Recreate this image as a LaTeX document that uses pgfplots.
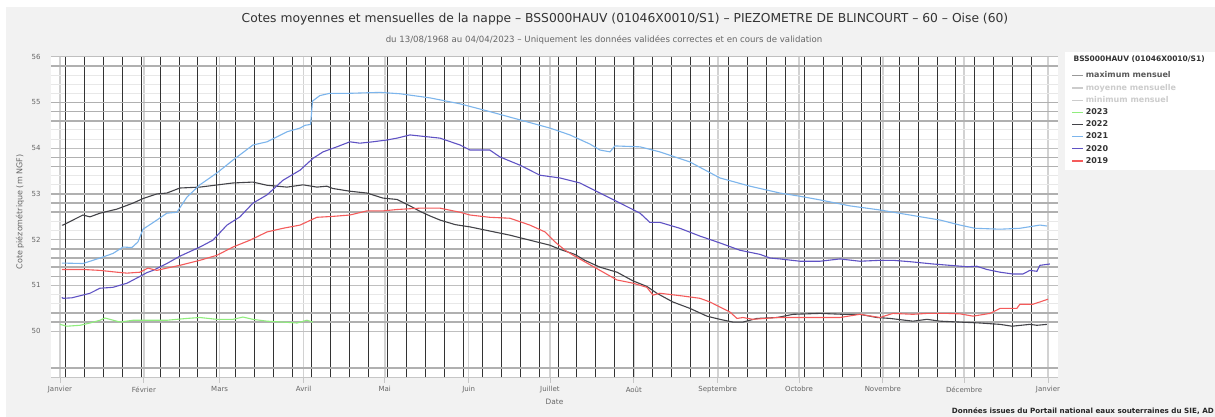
\documentclass[border=0pt]{standalone}
\usepackage{fontspec}
\setmainfont{DejaVu Sans}
\usepackage{pgfplots}
\pgfplotsset{compat=1.18}
\definecolor{bgGray}{HTML}{F2F2F2}
\definecolor{txtGray}{HTML}{666666}
\definecolor{c2023}{HTML}{90ED7D}
\definecolor{c2022}{HTML}{434348}
\definecolor{c2021}{HTML}{7CB5EC}
\definecolor{c2020}{HTML}{5F52C4}
\definecolor{c2019}{HTML}{F45B5B}
\definecolor{cMax}{HTML}{999999}
\definecolor{cHid}{HTML}{CCCCCC}

\begin{document}
\begin{tikzpicture}[x=1pt,y=1pt]
\path[use as bounding box] (0,0) rectangle (1215,417);
\clip (0,0) rectangle (1215,417);
\fill[white] (0,0) rectangle (1215,417);
\fill[bgGray] (6,0) rectangle (1215,410);
\fill[white] (1065,247) rectangle (1215,365);

% titles
\node[font=\fontsize{12.3}{14}\selectfont, text=black!80] at (625,398)
  {Cotes moyennes et mensuelles de la nappe – BSS000HAUV (01046X0010/S1) – PIEZOMETRE DE BLINCOURT – 60 – Oise (60)};
\node[font=\fontsize{8.6}{10}\selectfont, text=txtGray] at (604,377)
  {du 13/08/1968 au 04/04/2023 – Uniquement les données validées correctes et en cours de validation};
\node[font=\bfseries\fontsize{7.5}{9}\selectfont, text=black!80, anchor=west] at (1070,358)
  {BSS000HAUV (01046X0010/S1)};
\node[font=\bfseries\fontsize{7.2}{9}\selectfont, text=black!85, anchor=east, inner xsep=0pt] at (1214,6)
  {Données issues du Portail national eaux souterraines du SIE, AD};

\begin{axis}[
    at={(51pt,40pt)}, anchor=south west,
    width=1007pt, height=320.3pt, scale only axis,
    axis background/.style={fill=white},
    xmin=-3.3, xmax=368.7, ymin=49, ymax=56,
    axis x line*=bottom, axis y line*=left,
    x axis line style={draw=gray!45, line width=0.8pt, -},
    y axis line style={draw=none},
    xtick={0,31,59,90,120,151,181,212,243,273,304,334,365},
    xticklabels={Janvier,Février,Mars,Avril,Mai,Juin,Juillet,Août,Septembre,Octobre,Novembre,Décembre,Janvier},
    xtick align=outside, major tick length=6pt,
    x tick style={draw=gray!45, line width=0.8pt},
    ytick={50,...,56}, y tick style={draw=none},
    minor y tick num=4,
    xmajorgrids=true, ymajorgrids=true, yminorgrids=true,
    major x grid style={draw=gray!35, line width=1.5pt},
    major y grid style={draw=gray!50, line width=0.9pt},
    minor y grid style={draw=gray!18, line width=0.9pt},
    extra x ticks={2,9,...,359},
    extra x tick labels={},
    extra x tick style={major tick length=0pt, major x grid style={draw=black!80, line width=1pt}},
    extra y ticks={49.2,50.2,50.4,51.2,51.4,51.6,51.8,52.6,52.8,53.0,53.6,53.8,54.6,54.8,55.0,55.8},
    extra y tick labels={},
    extra y tick style={major tick length=0pt, major y grid style={draw=gray!62, line width=1.6pt}},
    tick label style={font=\fontsize{7}{8}\selectfont, text=txtGray},
    /pgf/number format/assume math mode=true,
    yticklabel style={xshift=-7pt},
    xlabel={Date}, ylabel={Cote piézométrique (m NGF)},
    every axis x label/.style={at={(axis description cs:0.5,-0.078)}, anchor=center,
      font=\fontsize{7.4}{8}\selectfont, text=txtGray},
    every axis y label/.style={at={(axis description cs:-0.0308,0.515)}, rotate=90, anchor=center,
      font=\fontsize{8}{9}\selectfont, text=txtGray},
    legend style={at={(axis description cs:1,1)}, anchor=north west, xshift=13.5pt, yshift=-13pt,
      draw=none, fill=none, inner sep=0pt, row sep=0.7pt,
      font=\bfseries\fontsize{8}{9}\selectfont},
    legend cell align=left,
    legend image code/.code={\draw[#1] (0pt,0pt) -- (11pt,0pt);},
    every axis plot/.append style={line width=1.1pt},
]
\addlegendimage{cMax, line width=1.1pt}
\addlegendentry[text=black!65]{maximum mensuel}
\addlegendimage{cHid, line width=1.1pt}
\addlegendentry[text=cHid]{moyenne mensuelle}
\addlegendimage{cHid, line width=1.1pt}
\addlegendentry[text=cHid]{minimum mensuel}

% 2023
\addplot[c2023] coordinates {
(0,50.15) (2.6,50.11) (7.4,50.13) (11.1,50.18) (14.8,50.24) (16.6,50.29) (22.2,50.20) (27.0,50.24)
(39.5,50.24) (46.9,50.28) (51.7,50.30) (58.0,50.26) (63.9,50.26) (67.6,50.31) (71.3,50.26)
(76.5,50.22) (82.4,50.20) (87.6,50.18) (91.2,50.24) (93.5,50.20)
};
\addlegendentry[text=black!80]{2023}

% 2022
\addplot[c2022] coordinates {
(0.7,52.32) (1.1,52.32) (4.8,52.43) (8.5,52.54) (11.1,52.50) (14.8,52.58) (21.1,52.67) (27.0,52.80)
(30.7,52.90) (35.8,53.00) (39.5,53.02) (44.3,53.13) (51.7,53.15) (63.9,53.24) (71.3,53.26)
(76.5,53.19) (83.9,53.15) (89.8,53.20) (94.9,53.15) (98.6,53.17) (100.8,53.12) (107.1,53.06)
(113.4,53.02) (119.3,52.91) (124.5,52.88) (129.3,52.74) (133.0,52.62) (136.7,52.52) (140.4,52.43)
(146.0,52.33) (151.5,52.28) (158.8,52.19) (166.2,52.10) (173.6,51.99) (181.0,51.88) (184.7,51.79)
(190.2,51.68) (193.9,51.55) (199.5,51.40) (205.8,51.29) (211.7,51.10) (216.8,50.98) (220.5,50.83)
(226.4,50.64) (232.7,50.50) (239.0,50.33) (243.8,50.26) (248.6,50.20) (252.3,50.20) (257.5,50.28)
(264.9,50.30) (270.8,50.37) (280.8,50.39) (289.2,50.37) (295.5,50.37) (301.8,50.30) (306.6,50.28)
(315.1,50.22) (320.3,50.26) (325.1,50.22) (332.5,50.20) (339.9,50.18) (347.3,50.15) (351.7,50.11)
(358.3,50.15) (360.9,50.13) (364.6,50.15)
};
\addlegendentry[text=black!80]{2022}

% 2021
\addplot[c2021] coordinates {
(0.7,51.49) (8.5,51.48) (14.8,51.60) (19.6,51.70) (23.3,51.84) (26.6,51.83) (28.8,51.95) (30.7,52.23)
(35.8,52.43) (39.5,52.58) (43.2,52.60) (46.9,52.93) (51.7,53.20) (58.0,53.46) (63.9,53.74)
(71.3,54.07) (76.5,54.14) (83.9,54.36) (88.7,54.44) (90.5,54.50) (92.6,54.52) (93.3,55.03)
(96.0,55.15) (99.7,55.20) (107.1,55.20) (118.2,55.22) (125.6,55.19) (136.7,55.10) (147.8,54.97)
(158.8,54.80) (169.9,54.62) (181.0,54.44) (188.4,54.29) (195.8,54.09) (199.5,53.96) (203.2,53.92)
(205.0,54.05) (214.3,54.03) (221.6,53.92) (232.7,53.70) (243.8,53.35) (254.9,53.17) (266.0,53.02)
(273.4,52.95) (280.8,52.87) (291.8,52.74) (302.9,52.65) (314.0,52.54) (325.1,52.43) (332.5,52.32)
(338.0,52.25) (347.3,52.23) (354.6,52.25) (362.0,52.32) (364.6,52.30)
};
\addlegendentry[text=black!80]{2021}

% 2020
\addplot[c2020] coordinates {
(0.7,50.74) (1.1,50.72) (4.4,50.73) (11.1,50.83) (14.8,50.94) (19.6,50.96) (24.8,51.05) (29.6,51.20)
(32.1,51.28) (34.4,51.33) (39.5,51.48) (44.3,51.64) (51.7,51.84) (56.5,51.99) (61.7,52.32)
(66.5,52.50) (71.3,52.80) (76.5,52.98) (82.4,53.30) (88.7,53.52) (93.5,53.78) (97.2,53.92)
(102.3,54.03) (107.1,54.14) (110.8,54.11) (115.6,54.14) (120.8,54.18) (124.5,54.22) (129.3,54.29)
(140.4,54.22) (147.8,54.07) (151.5,53.96) (158.8,53.96) (162.5,53.81) (169.9,53.63) (177.3,53.41)
(184.7,53.35) (192.1,53.24) (199.5,53.02) (206.9,52.80) (214.3,52.58) (217.9,52.38) (221.6,52.38)
(229.0,52.25) (236.4,52.08) (243.8,51.93) (251.2,51.77) (258.6,51.68) (262.3,51.60) (266.0,51.58)
(273.4,51.53) (280.8,51.53) (288.1,51.58) (295.5,51.53) (302.9,51.55) (307.7,51.55) (314.0,51.52)
(322.5,51.47) (328.8,51.44) (335.1,51.41) (338.7,51.42) (342.4,51.35) (347.3,51.29) (352.1,51.25)
(355.7,51.25) (358.3,51.33) (360.9,51.31) (362.0,51.44) (365.7,51.47)
};
\addlegendentry[text=black!80]{2020}

% 2019
\addplot[c2019] coordinates {
(0.7,51.35) (8.5,51.35) (14.8,51.33) (21.1,51.29) (24.8,51.27) (29.6,51.29) (32.5,51.38) (35.8,51.33)
(39.5,51.38) (44.3,51.44) (51.7,51.55) (58.0,51.66) (63.9,51.84) (70.2,51.99) (76.5,52.17)
(82.4,52.25) (88.7,52.32) (94.9,52.49) (100.8,52.51) (107.1,52.54) (113.4,52.63) (119.3,52.63)
(124.5,52.66) (133.0,52.69) (140.4,52.69) (147.8,52.60) (151.5,52.54) (158.8,52.49) (166.2,52.47)
(173.6,52.32) (179.2,52.17) (182.9,51.95) (186.6,51.77) (190.2,51.64) (194.7,51.49) (199.5,51.33)
(205.8,51.12) (211.7,51.05) (216.8,50.96) (219.1,50.79) (221.6,50.83) (230.1,50.77) (236.4,50.72)
(240.1,50.64) (247.5,50.42) (250.1,50.28) (252.3,50.30) (256.0,50.26) (264.9,50.30) (273.4,50.30)
(288.1,50.30) (295.5,50.37) (302.9,50.30) (307.7,50.39) (315.1,50.37) (320.3,50.39) (327.7,50.39)
(332.5,50.38) (337.3,50.33) (343.6,50.39) (347.3,50.50) (353.5,50.50) (354.6,50.59) (359.4,50.59)
(362.0,50.64) (365.0,50.70)
};
\addlegendentry[text=black!80]{2019}
\end{axis}
\end{tikzpicture}
\end{document}
